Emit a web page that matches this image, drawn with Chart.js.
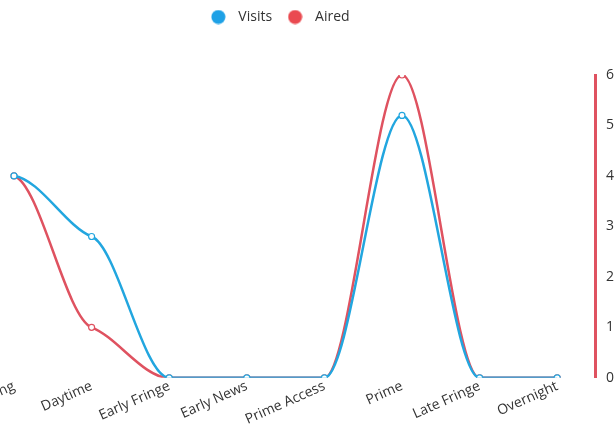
<!DOCTYPE html>
<html>
<head>
<meta charset="utf-8">
<script src="https://cdn.jsdelivr.net/npm/chart.js@4.4.1/dist/chart.umd.min.js"></script>
<style>
  html, body { margin: 0; padding: 0; overflow: hidden; background: #fff; }
  #wrap { position: absolute; left: -69px; top: 0; width: 694px; height: 430px; }
</style>
</head>
<body>
<div id="wrap"><canvas id="c" width="694" height="430"></canvas></div>
<script>
// Dayparts and their counts
const dayparts = ['Early Morning', 'Daytime', 'Early Fringe', 'Early News', 'Prime Access', 'Prime', 'Late Fringe', 'Overnight'];
const visits = [4, 2.8, 0, 0, 0, 5.2, 0, 0];
const aired = [4, 1, 0, 0, 0, 6, 0, 0];
const countTicks = [0, 1, 2, 3, 4, 5, 6];

const BLUE = '#22a6df';
const RED = '#df5260';
const BLUE_KEY = '#1ea1e6';
const RED_KEY = '#ea4a50';
const FONT = "'Open Sans', 'Segoe UI', sans-serif";

// Round legend marker drawn on a small canvas
function legendDot(color) {
  const c = document.createElement('canvas');
  c.width = 15; c.height = 15;
  const g = c.getContext('2d');
  g.fillStyle = color;
  g.beginPath();
  g.arc(7.5, 7.5, 7, 0, Math.PI * 2);
  g.fill();
  return c;
}

// Extra room under the legend
const legendGap = {
  id: 'legendGap',
  beforeInit(chart) {
    const fit = chart.legend.fit;
    chart.legend.fit = function () {
      fit.bind(chart.legend)();
      this.height += 41;
    };
  }
};

// Eased curves: interior points get a gentle tangent (flat at peaks and on zero runs)
const easedCurve = {
  id: 'easedCurve',
  afterDatasetsUpdate(chart) {
    const k = 0.3;
    const kEnd = 0.15;
    chart.data.datasets.forEach((ds, i) => {
      const meta = chart.getDatasetMeta(i);
      meta.dataset.updateControlPoints(chart.chartArea, 'x');
      const pts = meta.data;
      const n = pts.length;
      const slopes = pts.map((p, j) => {
        if (j === 0) return kEnd * (pts[1].y - p.y) / (pts[1].x - p.x);
        if (j === n - 1) return kEnd * (p.y - pts[j - 1].y) / (p.x - pts[j - 1].x);
        const a = p.y - pts[j - 1].y;
        const b = pts[j + 1].y - p.y;
        if (Math.abs(a) < 0.5 || Math.abs(b) < 0.5 || a * b < 0) return 0;
        return k * (pts[j + 1].y - pts[j - 1].y) / (pts[j + 1].x - pts[j - 1].x);
      });
      pts.forEach((p, j) => {
        const dPrev = j > 0 ? (p.x - pts[j - 1].x) / 3 : 0;
        const dNext = j < n - 1 ? (pts[j + 1].x - p.x) / 3 : 0;
        p.cp1x = p.x - dPrev;
        p.cp1y = p.y - slopes[j] * dPrev;
        p.cp2x = p.x + dNext;
        p.cp2y = p.y + slopes[j] * dNext;
      });
    });
  }
};

const keyDots = { Visits: legendDot(BLUE_KEY), Aired: legendDot(RED_KEY) };

new Chart(document.getElementById('c'), {
  type: 'line',
  data: {
    labels: dayparts,
    datasets: [
      {
        label: 'Visits',
        data: visits,
        borderColor: BLUE,
        backgroundColor: BLUE_KEY,
        pointBackgroundColor: '#fff',
        pointBorderColor: BLUE,
        borderWidth: 2.5,
        pointRadius: 3,
        pointBorderWidth: 1.2,
        cubicInterpolationMode: 'monotone',
        fill: false
      },
      {
        label: 'Aired',
        data: aired,
        borderColor: RED,
        backgroundColor: RED_KEY,
        pointBackgroundColor: '#fff',
        pointBorderColor: RED,
        borderWidth: 2.5,
        pointRadius: 3,
        pointBorderWidth: 1.2,
        cubicInterpolationMode: 'monotone',
        fill: false
      }
    ]
  },
  options: {
    responsive: false,
    animation: false,
    layout: { padding: { top: 0, bottom: 0, left: 0, right: 1 } },
    plugins: {
      legend: {
        position: 'top',
        labels: {
          usePointStyle: true,
          pointStyleWidth: 26,
          boxHeight: 14,
          color: '#333',
          font: { family: FONT, size: 14 },
          padding: 10,
          generateLabels(chart) {
            return Chart.defaults.plugins.legend.labels.generateLabels(chart).map(item => {
              item.pointStyle = keyDots[item.text];
              item.fillStyle = chart.data.datasets[item.datasetIndex].backgroundColor;
              item.lineWidth = 0;
              return item;
            });
          }
        }
      },
      tooltip: { enabled: false }
    },
    scales: {
      x: {
        offset: true,
        grid: { display: false, drawTicks: false },
        border: { display: false },
        ticks: {
          color: '#333',
          font: { family: FONT, size: 14 },
          minRotation: 24,
          maxRotation: 24,
          padding: 0,
          autoSkip: false
        }
      },
      y: {
        position: 'right',
        min: 0,
        max: 6,
        afterBuildTicks(axis) { axis.ticks = countTicks.map(v => ({ value: v })); },
        grid: { display: false, drawTicks: false },
        border: { display: true, color: RED, width: 3 },
        ticks: {
          color: '#333',
          font: { family: FONT, size: 14 },
          padding: 10
        }
      }
    }
  },
  plugins: [legendGap, easedCurve]
});
</script>
</body>
</html>
